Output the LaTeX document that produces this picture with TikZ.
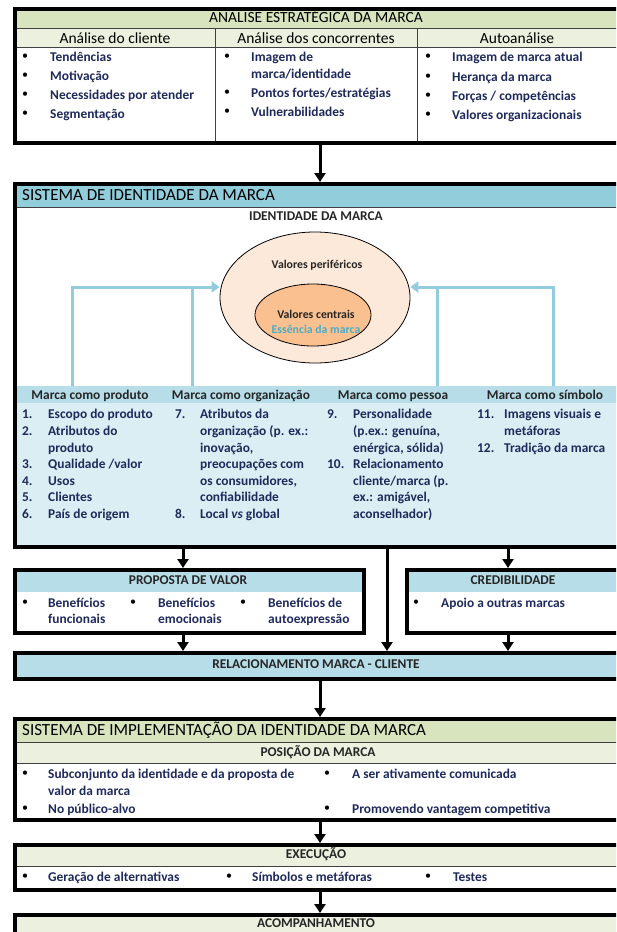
\documentclass[tikz,border=0pt]{standalone}
\usepackage{fontspec}
\setmainfont{Carlito}
\usetikzlibrary{arrows.meta,shapes.geometric}
\definecolor{gdark}{HTML}{D7E4BD}
\definecolor{glight}{HTML}{EBF1DE}
\definecolor{bdark}{HTML}{92CDDC}
\definecolor{bmid}{HTML}{B7DDE8}
\definecolor{blight}{HTML}{DAEEF3}
\definecolor{navy}{HTML}{1F2A5C}
\definecolor{peach}{HTML}{FDE9D9}
\definecolor{orng}{HTML}{FAC090}
\definecolor{tealtxt}{HTML}{4BACC6}
\definecolor{lbline}{HTML}{93CDDD}
\begin{document}
\begin{tikzpicture}[x=1pt,y=-1pt,
  frame/.style={draw=black,line width=3.5pt,anchor=north west,inner sep=0pt},
  sep/.style={draw=black!75,line width=1pt},
  bt/.style={font=\bfseries\fontsize{13.4}{15}\selectfont,text=navy,anchor=base west,yshift=-4.6pt,inner sep=0pt},
  bl/.style={font=\fontsize{12}{14}\selectfont,text=black,anchor=center,inner sep=0pt},
  hd/.style={font=\fontsize{15.5}{17}\selectfont,text=black,anchor=base,yshift=-5.3pt,inner sep=0pt},
  bh/.style={font=\bfseries\fontsize{13.4}{15}\selectfont,text=black!85,anchor=base,yshift=-4.6pt,inner sep=0pt},
  eh/.style={bh,font=\bfseries\fontsize{11.8}{14}\selectfont,yshift=-4pt},
  big/.style={font=\fontsize{17}{19}\selectfont,text=black,anchor=base west,yshift=-5.8pt,inner sep=0pt},
  arr/.style={draw=black,line width=3pt,-{Triangle[length=9pt,width=11pt]}},
  barr/.style={draw=lbline,line width=3pt,-{Triangle[length=8pt,width=11pt]}},
  bln/.style={draw=lbline,line width=3pt}]
\useasboundingbox (0,0) rectangle (616,932);
\clip (0,0) rectangle (616,932);
\fill[white] (0,0) rectangle (616,932);

% ---------- ANALISE ESTRATEGICA ----------
\fill[gdark] (13,7) rectangle (700,28);
\fill[glight] (13,28) rectangle (700,47);
\draw[sep] (13,28) -- (700,28);
\draw[sep] (13,47) -- (700,47);
\draw[sep] (215,28) -- (215,141);
\draw[sep] (417,28) -- (417,141);
\node[frame,minimum width=687pt,minimum height=134pt] (analise) at (13,7) {};
\node[hd] (tanalise) at (316,17.5) {ANALISE ESTRATÉGICA DA MARCA};
\node[hd] (h1) at (115,38) {Análise do cliente};
\node[hd] (h2) at (316,38) {Análise dos concorrentes};
\node[hd] (h3) at (517,38) {Autoanálise};
\node[bl] (b11) at (25,57) {•};  \node[bt] (t11) at (50,57) {Tendências};
\node[bl] (b12) at (25,76) {•};  \node[bt] (t12) at (50,76) {Motivação};
\node[bl] (b13) at (25,95) {•};  \node[bt] (t13) at (50,95) {Necessidades por atender};
\node[bl] (b14) at (25,114) {•}; \node[bt] (t14) at (50,114) {Segmentação};
\node[bl] (b21) at (227,57) {•};  \node[bt] (t21) at (251,57) {Imagem de};
\node[bt] (t21b) at (251,74) {marca/identidade};
\node[bl] (b22) at (227,93) {•};  \node[bt] (t22) at (251,93) {Pontos fortes/estratégias};
\node[bl] (b23) at (227,112) {•}; \node[bt] (t23) at (251,112) {Vulnerabilidades};
\node[bl] (b31) at (428,57) {•};  \node[bt] (t31) at (452,57) {Imagem de marca atual};
\node[bl] (b32) at (428,77) {•};  \node[bt] (t32) at (452,77) {Herança da marca};
\node[bl] (b33) at (428,96) {•};  \node[bt] (t33) at (452,96) {Forças / competências};
\node[bl] (b34) at (428,115) {•}; \node[bt] (t34) at (452,115) {Valores organizacionais};

% ---------- SISTEMA DE IDENTIDADE ----------
\fill[bdark] (13,182) rectangle (700,207);
\draw[sep] (13,207) -- (700,207);
\fill[bmid] (13,386) rectangle (700,403);
\fill[blight] (13,403) rectangle (700,545);
\node[frame,minimum width=687pt,minimum height=363pt] (sid) at (13,182) {};
\node[big] (tsid) at (22,195) {SISTEMA DE IDENTIDADE DA MARCA};
\node[bh] (tident) at (316,216) {IDENTIDADE DA MARCA};
\node[ellipse,draw=black,line width=0.8pt,fill=peach,minimum width=190pt,minimum height=131pt,inner sep=0pt] (outer) at (315,297.5) {};
\node[ellipse,draw=black,line width=0.8pt,fill=orng,minimum width=116pt,minimum height=62pt,inner sep=0pt] (inner) at (313,315) {};
\node[eh] (tper) at (317,260) {Valores periféricos};
\node[eh] (tcen) at (316,310) {Valores centrais};
\node[eh,text=tealtxt] (tess) at (316,325) {Essência da marca};

\coordinate (lb1) at (72,386);
\coordinate (lb2) at (192,386);
\coordinate (rb1) at (437,386);
\coordinate (rb2) at (553,386);
\coordinate (lvl) at (0,287);
\draw[barr] (lb1) |- (outer.west |- lvl) ;
\draw[bln] (lb2) -- (lb2 |- lvl);
\draw[barr] (rb2) |- (outer.east |- lvl);
\draw[bln] (rb1) -- (rb1 |- lvl);

\node[bh] (m1) at (90,395) {Marca como produto};
\node[bh] (m2) at (241,395) {Marca como organização};
\node[bh] (m3) at (393,395) {Marca como pessoa};
\node[bh] (m4) at (545,395) {Marca como símbolo};

\node[bt] (n1) at (22,414) {1.};  \node[bt] (p1) at (48,414) {Escopo do produto};
\node[bt] (n2) at (22,431) {2.};  \node[bt] (p2) at (48,431) {Atributos do};
\node[bt] (p2b) at (48,448) {produto};
\node[bt] (n3) at (22,464) {3.};  \node[bt] (p3) at (48,464) {Qualidade /valor};
\node[bt] (n4) at (22,481) {4.};  \node[bt] (p4) at (48,481) {Usos};
\node[bt] (n5) at (22,497) {5.};  \node[bt] (p5) at (48,497) {Clientes};
\node[bt] (n6) at (22,514) {6.};  \node[bt] (p6) at (48,514) {País de origem};

\node[bt] (n7) at (175,414) {7.}; \node[bt] (o1) at (200,414) {Atributos da};
\node[bt] (o2) at (200,431) {organização (p. ex.:};
\node[bt] (o3) at (200,448) {inovação,};
\node[bt] (o4) at (200,464) {preocupações com};
\node[bt] (o5) at (200,481) {os consumidores,};
\node[bt] (o6) at (200,497) {confiabilidade};
\node[bt] (n8) at (175,514) {8.}; \node[bt] (o7) at (200,514) {Local \textit{vs} global};

\node[bt] (n9) at (327,414) {9.}; \node[bt] (s1) at (353,414) {Personalidade};
\node[bt] (s2) at (353,431) {(p.ex.: genuína,};
\node[bt] (s3) at (353,448) {enérgica, sólida)};
\node[bt] (n10) at (327,464) {10.}; \node[bt] (s4) at (353,464) {Relacionamento};
\node[bt] (s5) at (353,481) {cliente/marca (p.};
\node[bt] (s6) at (353,497) {ex.: amigável,};
\node[bt] (s7) at (353,514) {aconselhador)};

\node[bt] (n11) at (477,414) {11.}; \node[bt] (y1) at (504,414) {Imagens visuais e};
\node[bt] (y2) at (504,431) {metáforas};
\node[bt] (n12) at (477,448) {12.}; \node[bt] (y3) at (504,448) {Tradição da marca};

% ---------- PROPOSTA / CREDIBILIDADE ----------
\fill[bmid] (13,568) rectangle (362,592);
\node[frame,minimum width=349pt,minimum height=63pt] (prop) at (13,568) {};
\node[bh] (tprop) at (188,580) {PROPOSTA DE VALOR};
\node[bl] (pb1) at (25,603) {•};  \node[bt] (pv1) at (48,603) {Benefícios};  \node[bt] (pv1b) at (48,619) {funcionais};
\node[bl] (pb2) at (133,603) {•}; \node[bt] (pv2) at (158,603) {Benefícios}; \node[bt] (pv2b) at (158,619) {emocionais};
\node[bl] (pb3) at (243,603) {•}; \node[bt] (pv3) at (268,603) {Benefícios de}; \node[bt] (pv3b) at (268,619) {autoexpressão};

\fill[bmid] (405,568) rectangle (700,592);
\node[frame,minimum width=295pt,minimum height=63pt] (cred) at (405,568) {};
\node[bh] (tcred) at (513,580) {CREDIBILIDADE};
\node[bl] (cb1) at (416,603) {•}; \node[bt] (cv1) at (441,603) {Apoio a outras marcas};

% ---------- RELACIONAMENTO ----------
\node[frame,fill=bmid,minimum width=687pt,minimum height=26pt] (rel) at (13,651) {};
\node[bh] (trel) at (316,664) {RELACIONAMENTO MARCA - CLIENTE};

% ---------- IMPLEMENTACAO ----------
\fill[gdark] (13,717) rectangle (700,742);
\fill[glight] (13,742) rectangle (700,763);
\draw[sep] (13,742) -- (700,742);
\draw[sep] (13,763) -- (700,763);
\node[frame,minimum width=687pt,minimum height=101pt] (impl) at (13,717) {};
\node[big] (timpl) at (22,730) {SISTEMA DE IMPLEMENTAÇÃO DA IDENTIDADE DA MARCA};
\node[bh] (tpos) at (318,752) {POSIÇÃO DA MARCA};
\node[bl] (ib1) at (25,774) {•}; \node[bt] (iv1) at (48,774) {Subconjunto da identidade e da proposta de};
\node[bt] (iv1b) at (48,791) {valor da marca};
\node[bl] (ib2) at (25,809) {•}; \node[bt] (iv2) at (48,809) {No público-alvo};
\node[bl] (ib3) at (327,774) {•}; \node[bt] (iv3) at (352,774) {A ser ativamente comunicada};
\node[bl] (ib4) at (327,809) {•}; \node[bt] (iv4) at (352,809) {Promovendo vantagem competitiva};

% ---------- EXECUCAO ----------
\fill[glight] (13,843) rectangle (700,866);
\draw[sep] (13,866) -- (700,866);
\node[frame,minimum width=687pt,minimum height=45pt] (exe) at (13,843) {};
\node[bh] (texe) at (316,854) {EXECUÇÃO};
\node[bl] (eb1) at (25,877) {•};  \node[bt] (ev1) at (48,877) {Geração de alternativas};
\node[bl] (eb2) at (229,877) {•}; \node[bt] (ev2) at (252,877) {Símbolos e metáforas};
\node[bl] (eb3) at (428,877) {•}; \node[bt] (ev3) at (453,877) {Testes};

% ---------- ACOMPANHAMENTO ----------
\fill[glight] (13,913) rectangle (700,960);
\node[frame,minimum width=687pt,minimum height=60pt] (acomp) at (13,913) {};
\node[bh] (tacomp) at (316,923) {ACOMPANHAMENTO};

% ---------- ARROWS ----------
\coordinate (ax) at (320,0);
\coordinate (px) at (183,0);
\coordinate (cx) at (508,0);
\coordinate (mx) at (387,0);
\draw[arr] (analise.south -| ax) -- (sid.north -| ax);
\draw[arr] (sid.south -| px) -- (prop.north -| px);
\draw[arr] (sid.south -| cx) -- (cred.north -| cx);
\draw[arr] (sid.south -| mx) -- (rel.north -| mx);
\draw[arr] (prop.south -| px) -- (rel.north -| px);
\draw[arr] (cred.south -| cx) -- (rel.north -| cx);
\draw[arr] (rel.south -| ax) -- (impl.north -| ax);
\draw[arr] (impl.south -| ax) -- (exe.north -| ax);
\draw[arr] (exe.south -| ax) -- (acomp.north -| ax);
\end{tikzpicture}
\end{document}
